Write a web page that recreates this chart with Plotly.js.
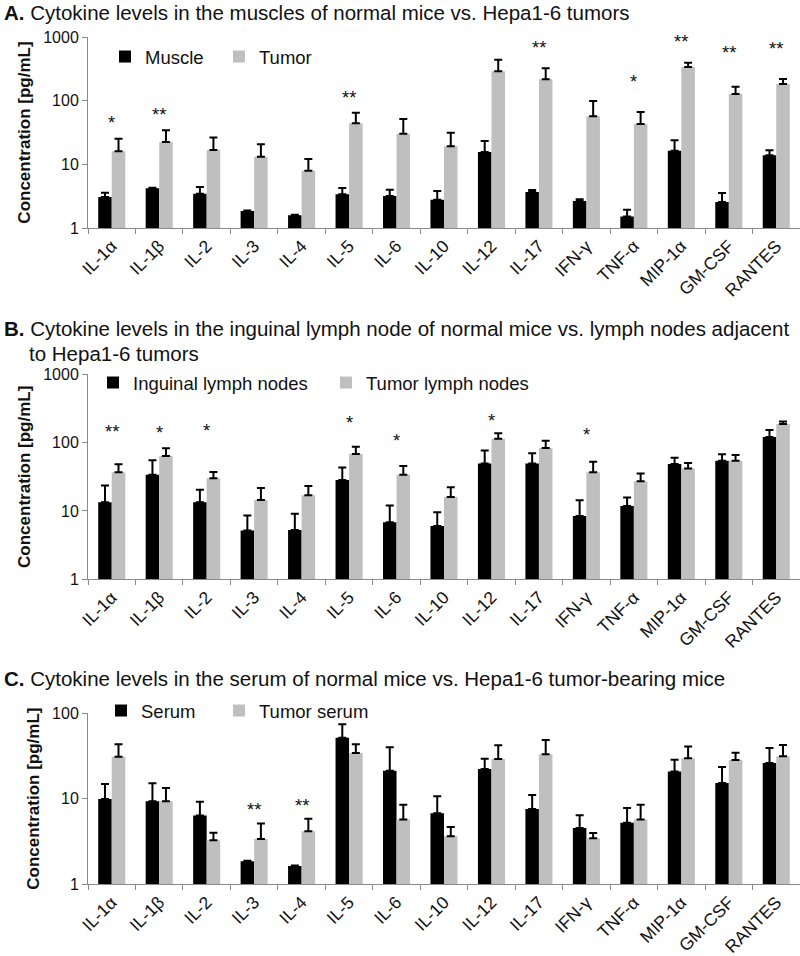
<!DOCTYPE html>
<html><head><meta charset="utf-8">
<script src="https://cdn.plot.ly/plotly-3.0.1.min.js"></script>
<style>body{margin:0;background:#fff}#chart{width:800px;height:956px}</style>
</head><body><div id="chart"></div>
<script>
const cytokines = ["IL-1α","IL-1β","IL-2","IL-3","IL-4","IL-5","IL-6","IL-10","IL-12","IL-17","IFN-γ","TNF-α","MIP-1α","GM-CSF","RANTES"];

// Panel A: muscles vs Hepa1-6 tumors
const muscle    = [3.07, 4.2, 3.46, 1.85, 1.58, 3.38, 3.18, 2.79, 15.6, 3.68, 2.66, 1.51, 16.4, 2.56, 13.9];
const muscleErr = [0.52, 0.1, 0.94, 0.04, 0.04, 0.87, 0.82, 1.02, 7.7, 0.27, 0.16, 0.43, 7.4, 0.99, 2.7];
const tumor     = [16.0, 22.4, 16.8, 13.2, 7.95, 44.0, 30.3, 19.2, 289, 216, 56.7, 43, 338, 127, 183];
const tumorErr  = [9.3, 11.8, 9.7, 7.4, 4.15, 20.8, 21.2, 12.2, 152, 106, 42.1, 23.4, 57, 39, 36];
const starsA    = ["*", "**", "", "", "", "**", "", "", "", "**", "", "*", "**", "**", "**"];
const starsAy   = [52.8, 71, null, null, null, 130, null, null, null, 795, null, 229, 990, 664, 767];

// Panel B: inguinal lymph nodes vs tumor lymph nodes
const inguinal    = [13.4, 34.0, 13.4, 5.16, 5.27, 28.4, 6.83, 6.03, 49.3, 49.3, 8.45, 11.8, 48.7, 54.5, 121];
const inguinalErr = [10.1, 21.1, 7.1, 3.39, 3.87, 14.7, 5.17, 3.53, 27.1, 20.5, 5.85, 4.0, 11.6, 13.0, 32];
const tumorLN     = [36.8, 63.8, 30.1, 14.5, 17.0, 68.3, 34.0, 16.0, 114, 83.6, 36.8, 27.2, 41.7, 54.5, 188];
const tumorLNErr  = [11.4, 18.8, 7.1, 7.2, 6.2, 19.1, 11.6, 6.2, 23, 23.4, 15.9, 8.0, 8.7, 11.5, 15];
const starsB      = ["**", "*", "*", "", "", "*", "*", "", "*", "", "*", "", "", "", ""];
const starsBy     = [168, 162, 175, null, null, 227, 122, null, 245, null, 153, null, null, null, null];

// Panel C: serum vs tumor serum
const serum         = [9.9, 9.31, 6.34, 1.86, 1.64, 51.5, 21.2, 6.74, 22.2, 7.57, 4.55, 5.24, 20.8, 15.2, 26.1];
const serumErr      = [4.9, 5.8, 2.89, 0.02, 0.02, 22.3, 18.5, 3.96, 7.1, 3.43, 1.84, 2.54, 7.7, 8.2, 12.9];
const tumorSerum    = [30.9, 9.31, 3.26, 3.38, 4.16, 34.1, 5.69, 3.63, 29.0, 32.9, 3.44, 5.69, 29.6, 28.3, 31.2];
const tumorSerumErr = [12.2, 4.0, 0.75, 1.73, 1.68, 9.0, 2.82, 1.04, 13.0, 15.5, 0.53, 2.82, 10.9, 6.1, 11.1];
const starsC        = ["", "", "", "**", "**", "", "", "", "", "", "", "", "", "", ""];
const starsCy       = [null, null, null, 8.27, 9.2, null, null, null, null, null, null, null, null, null, null];

const titles = [
  "<b>A.</b> Cytokine levels in the muscles of normal mice vs. Hepa1-6 tumors",
  "<b>B.</b> Cytokine levels in the inguinal lymph node of normal mice vs. lymph nodes adjacent",
  "to Hepa1-6 tumors",
  "<b>C.</b> Cytokine levels in the serum of normal mice vs. Hepa1-6 tumor-bearing mice"
];
const yTitle = "Concentration [pg/mL]";

const FONT = "Liberation Sans, Arial, sans-serif";
const BLACK = "#000000", GRAY = "#bfbfbf";

function barTrace(name, y, err, color, xa, ya, leg) {
  return {
    type: "bar", name: name, x: cytokines, y: y, xaxis: xa, yaxis: ya, legend: leg,
    marker: {color: color, line: {width: 0}},
    error_y: {type: "data", array: err, symmetric: false, arrayminus: err.map(() => 0),
              color: "#000", thickness: 2, width: 4}
  };
}

const data = [
  barTrace("Muscle", muscle, muscleErr, BLACK, "x", "y", "legend"),
  barTrace("Tumor", tumor, tumorErr, GRAY, "x", "y", "legend2"),
  barTrace("Inguinal lymph nodes", inguinal, inguinalErr, BLACK, "x2", "y2", "legend3"),
  barTrace("Tumor lymph nodes", tumorLN, tumorLNErr, GRAY, "x2", "y2", "legend4"),
  barTrace("Serum", serum, serumErr, BLACK, "x3", "y3", "legend5"),
  barTrace("Tumor serum", tumorSerum, tumorSerumErr, GRAY, "x3", "y3", "legend6")
];

const H = 956;
function xAxis(anchor) {
  return {
    domain: [0.11, 1.0], anchor: anchor, type: "category",
    showline: true, linecolor: "#8a8a8a", linewidth: 1,
    ticks: "outside", tickson: "boundaries", ticklen: 5, tickcolor: "#8a8a8a",
    tickangle: -45, tickfont: {family: FONT, size: 17.5, color: "#111"},
    showgrid: false, zeroline: false, fixedrange: true
  };
}
function yAxis(anchor, top, bottom, range) {
  return {
    domain: [1 - bottom / H, 1 - top / H], anchor: anchor, type: "log", range: range,
    dtick: 1, tickformat: "d",
    showline: true, linecolor: "#8a8a8a", linewidth: 1,
    ticks: "outside", ticklen: 5, tickcolor: "#8a8a8a",
    tickfont: {family: FONT, size: 16, color: "#111"},
    showgrid: false, zeroline: false,
    title: {text: "<b>" + yTitle + "</b>", font: {family: FONT, size: 17, color: "#111"}, standoff: 8}
  };
}

const annotations = [];
function addStars(labels, ys, xref, yref) {
  labels.forEach((s, i) => {
    if (!s) return;
    annotations.push({xref: xref, yref: yref, x: cytokines[i], y: Math.log10(ys[i]),
      text: s, showarrow: false, font: {family: FONT, size: 18.5, color: "#111"},
      xanchor: "center", yanchor: "middle", yshift: -4});
  });
}
addStars(starsA, starsAy, "x", "y");
addStars(starsB, starsBy, "x2", "y2");
addStars(starsC, starsCy, "x3", "y3");

function addTitle(text, xpx, ypx) {
  annotations.push({xref: "paper", yref: "paper", x: xpx / 800, y: 1 - ypx / H,
    xanchor: "left", yanchor: "middle", text: text, showarrow: false,
    font: {family: FONT, size: 20.5, color: "#111"}});
}
addTitle(titles[0], 2, 13);
addTitle(titles[1], 2, 328);
addTitle(titles[2], 27, 353);
addTitle(titles[3], 2, 678);

function legend(textX, ypx) {
  return {orientation: "h", x: (textX - 41) / 800, y: 1 - ypx / H, xanchor: "left", yanchor: "middle",
    bgcolor: "rgba(0,0,0,0)", font: {family: FONT, size: 18.5, color: "#111"}};
}

const layout = {
  width: 800, height: 956, margin: {l: 0, r: 0, t: 0, b: 0},
  paper_bgcolor: "#fff", plot_bgcolor: "#fff",
  barmode: "group", bargap: 0.43, bargroupgap: 0,
  font: {family: FONT, color: "#111"},
  xaxis: xAxis("y"), yaxis: yAxis("x", 37, 228, [0, 3]),
  xaxis2: xAxis("y2"), yaxis2: yAxis("x2", 374.3, 579.3, [0, 3]),
  xaxis3: xAxis("y3"), yaxis3: yAxis("x3", 713, 884.3, [0, 2]),
  legend: legend(146, 57),
  legend2: legend(260, 57),
  legend3: legend(134, 383),
  legend4: legend(367, 383),
  legend5: legend(142, 711),
  legend6: legend(260, 711),
  annotations: annotations,
  showlegend: true
};

Plotly.newPlot("chart", data, layout, {staticPlot: true, displayModeBar: false});
</script>
</body></html>
